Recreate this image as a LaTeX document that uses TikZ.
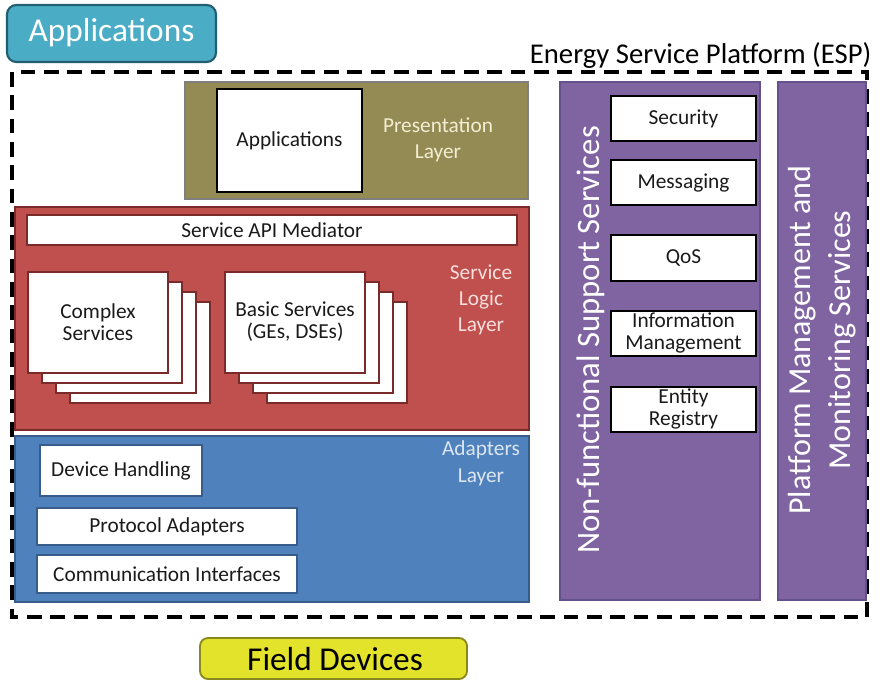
\documentclass[tikz,border=0pt]{standalone}
\usepackage{fontspec}
\setmainfont{Carlito}
\usetikzlibrary{positioning}

\definecolor{appteal}{HTML}{4BACC6}
\definecolor{appedge}{HTML}{215E6E}
\definecolor{presfill}{HTML}{948A54}
\definecolor{presedge}{HTML}{7F7F7F}
\definecolor{presfont}{HTML}{F2EED2}
\definecolor{logicfill}{HTML}{C0504D}
\definecolor{logicedge}{HTML}{7A2A28}
\definecolor{logicfont}{HTML}{F8DEDD}
\definecolor{adaptfill}{HTML}{4F81BD}
\definecolor{adaptedge}{HTML}{385D8A}
\definecolor{adaptfont}{HTML}{DCE6F2}
\definecolor{nfsfill}{HTML}{8064A2}
\definecolor{nfsedge}{HTML}{64508A}
\definecolor{fieldfill}{HTML}{E3E32C}
\definecolor{fieldedge}{HTML}{8A8A1C}
\definecolor{boxtext}{HTML}{1A1A1A}

\tikzset{
  boxfont/.style={text=boxtext, font=\fontsize{16}{16.5}\selectfont, align=center},
  layerfont/.style={font=\fontsize{16}{20}\selectfont, align=center},
  whitebox/.style={fill=white, line width=2pt},
  page/.style={fill=white, draw=logicedge, line width=2pt},
}

\begin{document}
\begin{tikzpicture}[x=0.75pt, y=-0.75pt]
    \useasboundingbox (0,0) rectangle (880,684);

    % top and bottom tabs
    \draw[fill=appteal, draw=appedge, line width=1.6pt, rounded corners=7pt] (7,5) rectangle (216,62);
    \node[white, font=\fontsize{25}{27}\selectfont] (apptab) at (111.5,33) {Applications};
    \draw[fill=fieldfill, draw=fieldedge, line width=1.4pt, rounded corners=6pt] (200,638) rectangle (467,679);
    \node[font=\fontsize{25}{27}\selectfont] (field) at (335,659) {Field Devices};

    % platform border
    \node[font=\fontsize{21.5}{23}\selectfont, anchor=base east] (esp) at (876,64) {Energy Service Platform (ESP)};
    \draw[line width=2.3pt, dash pattern=on 11pt off 6.5pt] (12,72) rectangle (867,617);

    % presentation layer
    \draw[fill=presfill, draw=presedge, line width=1pt] (185,82) rectangle (528,199);
    \draw[whitebox, draw=black] (217,89) rectangle (362,192);
    \node[boxfont] (apps) at (289.5,141) {Applications};
    \node[layerfont, presfont] (pres) at (438,140) {Presentation\\Layer};

    % service logic layer
    \draw[fill=logicfill, draw=logicedge, line width=1pt] (15,207) rectangle (529,430);
    \draw[whitebox, draw=logicedge] (27,215) rectangle (517,245);
    \node[boxfont] (mediator) at (272,230) {Service API Mediator};
    \foreach \d in {3,2,1,0} {
        \draw[page] (28+\d*14, 272+\d*10) rectangle ++(140,101);
        \draw[page] (225+\d*14, 272+\d*10) rectangle ++(140,101);
    }
    \node[boxfont] (complex) at (98,322) {Complex\\Services};
    \node[boxfont] (basic) at (295,322) {Basic Services\\(GEs, DSEs)};
    \node[layerfont, logicfont, font=\fontsize{16}{19.5}\selectfont] (logic) at (481,300) {Service\\Logic\\Layer};

    % adapters layer
    \draw[fill=adaptfill, draw=adaptedge, line width=1pt] (15,436) rectangle (529,602);
    \draw[fill=white, draw=adaptedge, line width=1pt] (40,445) rectangle (202,496);
    \node[boxfont] (device) at (121,470.5) {Device Handling};
    \draw[fill=white, draw=adaptedge, line width=1pt] (37,508) rectangle (297,545);
    \node[boxfont] (protocol) at (167,526.5) {Protocol Adapters};
    \draw[fill=white, draw=adaptedge, line width=1pt] (37,555) rectangle (297,593);
    \node[boxfont] (comm) at (167,574) {Communication Interfaces};
    \node[layerfont, adaptfont] (adapt) at (481,463) {Adapters\\Layer};

    % non-functional support services
    \draw[fill=nfsfill, draw=nfsedge, line width=0.8pt] (560,82) rectangle (760,600);
    \node[rotate=90, white, font=\fontsize{24.5}{27}\selectfont] (nfs) at (591,340) {Non-functional Support Services};
    \draw[whitebox, draw=black] (611,96) rectangle (756,141);
    \node[boxfont] (security) at (683.5,119) {Security};
    \draw[whitebox, draw=black] (611,160) rectangle (756,205);
    \node[boxfont] (messaging) at (683.5,183) {Messaging};
    \draw[whitebox, draw=black] (611,235) rectangle (756,281);
    \node[boxfont] (qos) at (683.5,258) {QoS};
    \draw[whitebox, draw=black] (611,311) rectangle (756,356);
    \node[boxfont] (info) at (683.5,333) {Information\\Management};
    \draw[whitebox, draw=black] (611,387) rectangle (756,432);
    \node[boxfont] (entity) at (683.5,409) {Entity\\Registry};

    % platform management
    \draw[fill=nfsfill, draw=nfsedge, line width=0.8pt] (778,82) rectangle (866,600);
    \node[rotate=90, white, align=center, font=\fontsize{24}{30}\selectfont] (pms) at (822,340) {Platform Management and\\Monitoring Services};
\end{tikzpicture}
\end{document}
